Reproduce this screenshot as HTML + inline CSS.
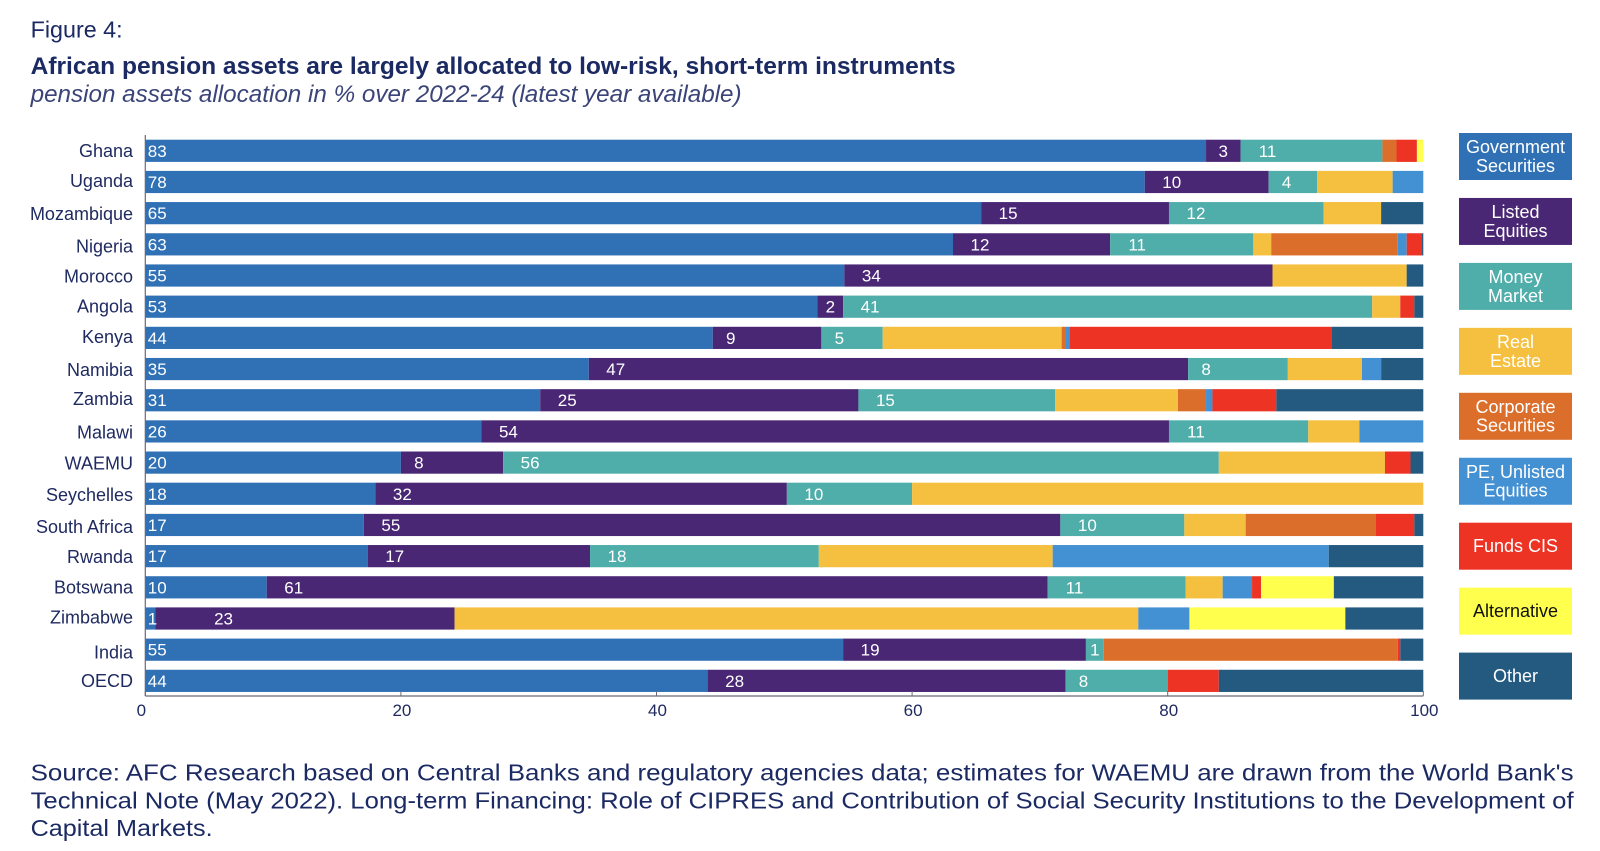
<!DOCTYPE html>
<html lang="en">
<head>
<meta charset="utf-8">
<title>African pension assets allocation</title>
<style>
html,body{margin:0;padding:0;background:#fff;width:1600px;height:851px;overflow:hidden}
svg{display:block;font-family:"Liberation Sans",sans-serif}
</style>
</head>
<body>
<svg id="chart" xmlns="http://www.w3.org/2000/svg" width="1600" height="851" viewBox="0 0 1600 851">
  <text x="30.6" y="37.5" font-size="23" fill="#1b2a63" textLength="92" lengthAdjust="spacingAndGlyphs">Figure 4:</text>
  <text x="30.6" y="74" font-size="24" font-weight="bold" fill="#1b2a63" textLength="925" lengthAdjust="spacingAndGlyphs">African pension assets are largely allocated to low-risk, short-term instruments</text>
  <text x="30.6" y="102" font-size="24" font-style="italic" fill="#3a4478" textLength="711" lengthAdjust="spacingAndGlyphs">pension assets allocation in % over 2022-24 (latest year available)</text>
  <g id="bars"></g>
  <g id="labels"></g>
  <g id="axes"></g>
  <g id="legend"></g>
  <text x="30.6" y="780.5" font-size="23" fill="#1b2a63" textLength="1543" lengthAdjust="spacingAndGlyphs">Source: AFC Research based on Central Banks and regulatory agencies data; estimates for WAEMU are drawn from the World Bank's</text>
  <text x="30.6" y="808.5" font-size="23" fill="#1b2a63" textLength="1543" lengthAdjust="spacingAndGlyphs">Technical Note (May 2022). Long-term Financing: Role of CIPRES and Contribution of Social Security Institutions to the Development of</text>
  <text x="30.6" y="836" font-size="23" fill="#1b2a63" textLength="182" lengthAdjust="spacingAndGlyphs">Capital Markets.</text>
</svg>
<script>
const categories = ["Ghana","Uganda","Mozambique","Nigeria","Morocco","Angola","Kenya","Namibia","Zambia","Malawi","WAEMU","Seychelles","South Africa","Rwanda","Botswana","Zimbabwe","India","OECD"];
const governmentSecurities = [83,78.2,65.4,63.2,54.7,52.6,44.4,34.7,30.9,26.3,20,18,17.1,17.4,9.5,0.8,54.6,44];
const listedEquities = [2.7,9.7,14.7,12.3,33.5,2,8.5,46.9,24.9,53.8,8,32.2,54.5,17.4,61.1,23.4,19,28];
const moneyMarket = [11.1,3.8,12.1,11.2,0,41.4,4.8,7.8,15.4,10.9,56,9.8,9.7,17.9,10.8,0,1.4,8];
const realEstate = [0,5.9,4.5,1.4,10.5,2.2,14,5.8,9.6,4,13,40,4.8,18.3,2.9,53.5,0,0];
const corporateSecurities = [1.1,0,0,9.9,0,0,0.3,0,2.2,0,0,0,10.2,0,0,0,23,0];
const peUnlistedEquities = [0,2.4,0,0.7,0,0,0.3,1.5,0.5,5,0,0,0,21.6,2.3,4,0,0];
const fundsCis = [1.6,0,0,1.2,0,1.1,20.5,0,5,0,2,0,3,0,0.7,0,0.2,4];
const alternative = [0.5,0,0,0,0,0,0,0,0,0,0,0,0,0,5.7,12.2,0,0];
const other = [0,0,3.3,0.1,1.3,0.7,7.2,3.3,11.5,0,1,0,0.7,7.4,7,6.1,1.8,16];
const xTicks = [0,20,40,60,80,100];
const seriesNames = ["government-securities","listed-equities","money-market","real-estate","corporate-securities","pe-unlisted-equities","funds-cis","alternative","other"];
const legendLabels = [["Government","Securities"],["Listed","Equities"],["Money","Market"],["Real","Estate"],["Corporate","Securities"],["PE, Unlisted","Equities"],["Funds CIS"],["Alternative"],["Other"]];

const allSeries = [governmentSecurities,listedEquities,moneyMarket,realEstate,corporateSecurities,peUnlistedEquities,fundsCis,alternative,other];
const colors = ["#3071b5","#4a2775","#4fadaa","#f5bf3f","#dc6e2c","#4390d2","#ec3324","#ffff4d","#255a80"];
const NS = "http://www.w3.org/2000/svg";
const xScale = v => 145.3 + v * 12.78;
const yTop = i => 139.7 + i * 31.18;
const barH = 22.2;
const barsG = document.getElementById("bars");
const labelsG = document.getElementById("labels");
const axesG = document.getElementById("axes");
const legendG = document.getElementById("legend");

function make(tag, attrs, parent, content) {
  const el = document.createElementNS(NS, tag);
  for (const k in attrs) el.setAttribute(k, attrs[k]);
  if (content !== undefined) el.textContent = content;
  parent.appendChild(el);
  return el;
}

function labelCenter(x0, w, text, cat) {
  if (cat === "Zimbabwe") return x0 + 68;
  const inset = text.length === 1 ? 18 : 27;
  return x0 + Math.min(w / 2, inset);
}

function categoryNudge(cat) {
  const nudges = {Uganda:-1,Mozambique:1,Nigeria:2,Morocco:1,Kenya:-1,Namibia:1,Zambia:-1,Malawi:1,WAEMU:1,Seychelles:1,"South Africa":2,Rwanda:1,Zimbabwe:-1,India:3};
  return nudges[cat] || 0;
}

categories.forEach((cat, i) => {
  let acc = 0;
  allSeries.forEach((series, s) => {
    const v = series[i];
    if (v <= 0) return;
    const x0 = xScale(acc), x1 = xScale(acc + v);
    const rect = make("rect", {x: x0, y: yTop(i), width: x1 - x0, height: barH, fill: colors[s]}, barsG);
    
    
    if (s < 3) {
      const w = x1 - x0;
      const isFirst = s === 0;
      const text = String(Math.round(v));
      const tx = isFirst ? x0 + 2.5 : labelCenter(x0, w, text, s === 1 ? cat : "");
      const label = make("text", {
        x: tx, y: yTop(i) + barH / 2 + 6, "font-size": 17, fill: "#fff",
        "text-anchor": isFirst ? "start" : "middle"
      }, labelsG, text);
      
      
    }
    acc += v;
  });
  const catLabel = make("text", {
    x: 133, y: yTop(i) + barH / 2 + 6 + categoryNudge(cat), "font-size": 18, fill: "#1f2a60", "text-anchor": "end"
  }, axesG, cat);
  
  
});

const yAxis = make("line", {x1: xScale(0), x2: xScale(0), y1: 135, y2: 696, stroke: "#6a6a78", "stroke-width": 1.2}, axesG);


const xAxis = make("line", {x1: xScale(0), x2: xScale(100), y1: 696, y2: 696, stroke: "#6a6a78", "stroke-width": 1.2}, axesG);



xTicks.forEach(t => {
  const tick = make("line", {x1: xScale(t), x2: xScale(t), y1: 691, y2: 696, stroke: "#6a6a78", "stroke-width": 1}, axesG);
  
  
  const tl = make("text", {x: xScale(t) + (t === 0 ? -4 : 1), y: 716, "font-size": 17, fill: "#1f2a60", "text-anchor": "middle"}, axesG, String(t));
  
  
});

legendLabels.forEach((lines, i) => {
  const top = 133 + i * 64.95;
  const box = make("rect", {x: 1459, y: top, width: 113, height: 47, fill: colors[i]}, legendG);
  
  
  const mid = top + 23.5;
  const startY = mid - (lines.length - 1) * 9.3 + 6;
  lines.forEach((ln, j) => {
    const t = make("text", {
      x: 1515.5, y: startY + j * 18.7, "font-size": 18, "text-anchor": "middle",
      fill: i === 7 ? "#111" : "#fff"
    }, legendG, ln);
    
    
  });
});
</script>
</body>
</html>
